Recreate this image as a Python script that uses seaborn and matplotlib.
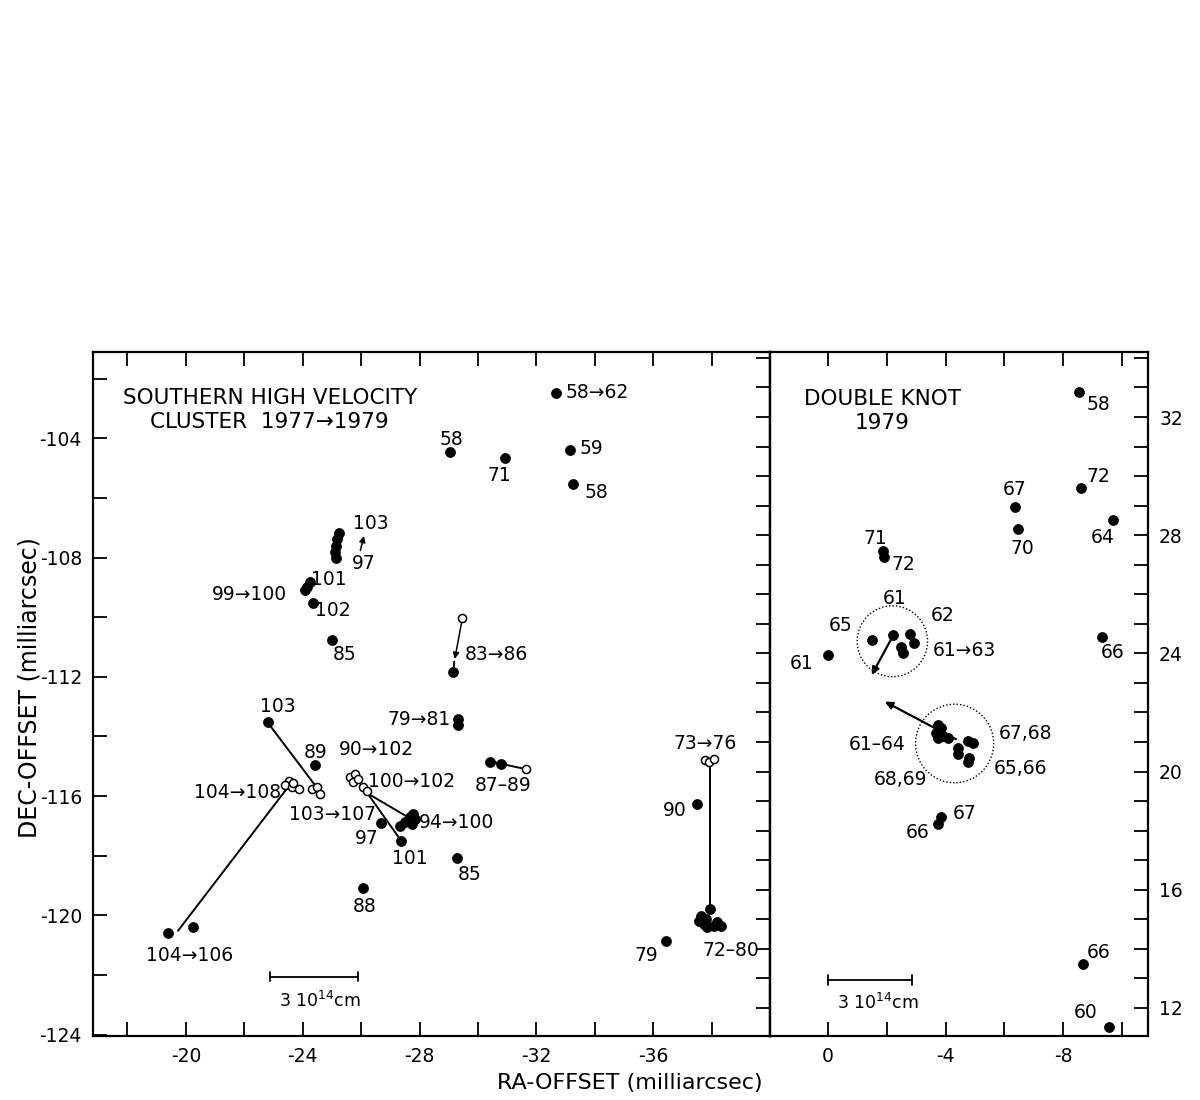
import numpy as np
import pandas as pd
import matplotlib.pyplot as plt
import seaborn as sns
from matplotlib.patches import Circle
from matplotlib.ticker import MultipleLocator

# ---- left panel: southern high velocity cluster 1977 -> 1979 ----
# filled dots (RA, DEC offsets in mas)
left_fill_x = [-29.06, -30.94, -32.68, -33.16, -33.26,
               -25.23, -25.16, -25.13, -25.09, -25.13,
               -24.24, -24.14, -24.07, -24.34, -24.99, -29.16,
               -22.80, -24.41, -29.33, -29.33, -19.38, -20.24,
               -26.67, -27.38,
               -27.32, -27.49, -27.66, -27.76, -27.83, -27.73,
               -29.30, -26.05, -30.43, -30.80, -37.50, -36.44,
               -37.95, -37.64, -37.57, -37.74, -37.85, -38.09, -38.32, -38.19, -37.81]
left_fill_y = [-104.47, -104.67, -102.46, -104.40, -105.54,
               -107.18, -107.38, -107.61, -107.81, -108.01,
               -108.82, -108.98, -109.08, -109.52, -110.76, -111.83,
               -113.53, -114.97, -113.43, -113.60, -120.59, -120.39,
               -116.91, -117.51,
               -117.01, -116.88, -116.71, -116.61, -116.78, -116.94,
               -118.08, -119.08, -114.84, -114.94, -116.27, -120.86,
               -119.79, -120.02, -120.19, -120.29, -120.39, -120.35, -120.35, -120.22, -120.12]

# open circles
left_open_x = [-29.47,
               -24.31, -24.48, -24.58,
               -23.52, -23.38, -23.62, -23.66, -23.86,
               -25.61, -25.78, -25.71, -25.88, -26.05, -26.19,
               -31.66,
               -37.78, -37.91, -38.09]
left_open_y = [-110.02,
               -115.77, -115.71, -115.94,
               -115.50, -115.64, -115.71, -115.57, -115.77,
               -115.37, -115.27, -115.54, -115.44, -115.71, -115.84,
               -115.10,
               -114.80, -114.87, -114.74]

# connecting lines (x0, x1), (y0, y1)
left_seg_x = [(-22.80, -24.48), (-19.73, -23.52), (-25.98, -27.73),
              (-26.19, -27.38), (-30.43, -31.66), (-37.95, -37.95), (-29.19, -29.16)]
left_seg_y = [(-113.53, -115.71), (-120.52, -115.67), (-115.77, -116.78),
              (-115.87, -117.51), (-114.84, -115.10), (-114.87, -119.79), (-111.49, -111.83)]

# small arrows (start -> end)
left_arr_x = [(-25.95, -26.12), (-29.47, -29.19)]
left_arr_y = [(-107.85, -107.18), (-110.02, -111.49)]

left_labels = ["58", "71", "58\u219262", "59", "58", "103", "97", "101", "99\u2192100",
               "102", "85", "83\u219286", "103", "89", "79\u219281", "90\u2192102",
               "104\u2192108", "100\u2192102", "103\u2192107", "94\u2192100", "97", "101",
               "85", "88", "104\u2192106", "87\u201389", "73\u219276", "90", "79", "72\u201380"]
left_lab_x = [-29.09, -30.74, -34.09, -33.88, -34.05, -26.32, -26.09, -24.89, -22.19,
              -25.03, -25.44, -30.63, -23.15, -24.44, -28.0, -26.53,
              -21.78, -27.73, -25.03, -29.26, -26.19, -27.66,
              -29.71, -26.12, -20.14, -30.87, -37.78, -36.75, -35.76, -38.67]
left_lab_y = [-104.03, -105.24, -102.46, -104.33, -105.81, -106.84, -108.18, -108.72, -109.25,
              -109.79, -111.26, -111.26, -113.00, -114.54, -113.43, -114.43,
              -115.87, -115.50, -116.61, -116.88, -117.44, -118.11,
              -118.62, -119.69, -121.36, -115.64, -114.23, -116.47, -121.36, -121.19]

# ---- right panel: double knot 1979 ----
right_fill_x = [-8.55, -8.62, -6.36, -6.46, -9.71, -1.88, -1.91, -9.33, 0.0,
                -1.50, -2.22, -2.80, -2.91, -2.50, -2.56,
                -3.73, -3.83, -3.66, -3.76, -3.93, -4.10,
                -4.41, -4.41, -4.75, -4.92, -4.79, -4.75,
                -3.86, -3.73, -8.68, -9.57]
right_fill_y = [32.85, 29.59, 28.95, 28.20, 28.51, 27.46, 27.25, 24.54, 23.93,
                24.44, 24.61, 24.64, 24.34, 24.20, 24.00,
                21.56, 21.46, 21.29, 21.12, 21.22, 21.15,
                20.81, 20.61, 21.05, 20.95, 20.47, 20.31,
                18.47, 18.24, 13.49, 11.36]

right_arr_x = [(-2.22, -1.44), (-4.44, -1.85)]
right_arr_y = [(24.61, 23.19), (21.05, 22.41)]

circ_x = [-2.19, -4.31]
circ_y = [24.41, 20.95]
circ_r = [1.2, 1.33]

right_labels = ["58", "72", "67", "70", "64", "71", "72", "66", "61", "65", "61", "62",
                "61\u219263", "61\u201364", "67,68", "68,69", "65,66", "67", "66", "66", "60"]
right_lab_x = [-9.20, -9.20, -6.36, -6.63, -9.37, -1.61, -2.56, -9.71, 0.89, -0.41, -2.26,
               -3.90, -4.65, -1.68, -6.74, -2.46, -6.56, -4.65, -3.04, -9.23, -8.79]
right_lab_y = [32.44, 30.00, 29.56, 27.56, 27.93, 27.90, 27.02, 24.03, 23.66, 24.95, 25.86,
               25.29, 24.10, 20.92, 21.29, 19.73, 20.10, 18.58, 17.93, 13.86, 11.83]

sns.set_style("ticks")
plt.rcParams['font.family'] = ['DejaVu Sans']
plt.rcParams['axes.unicode_minus'] = False
plt.rcParams['text.color'] = 'black'
plt.rcParams['xtick.color'] = 'black'
plt.rcParams['ytick.color'] = 'black'
plt.rcParams['xtick.labelcolor'] = 'black'
plt.rcParams['ytick.labelcolor'] = 'black'

fig = plt.figure(figsize=(12, 11), dpi=100)
ax1 = fig.add_axes([93 / 1200, 1 - 1036 / 1100, 677 / 1200, 684 / 1100])
ax2 = fig.add_axes([770 / 1200, 1 - 1036 / 1100, 378 / 1200, 684 / 1100])

fs = 13.5
lw = 1.4

# left panel
for xs, ys in zip(left_seg_x, left_seg_y):
    ax1.plot(xs, ys, color="black", lw=lw, zorder=2)
for xs, ys in zip(left_arr_x, left_arr_y):
    ax1.annotate("", xy=(xs[1], ys[1]), xytext=(xs[0], ys[0]),
                 arrowprops=dict(arrowstyle="-|>", color="black", lw=1.1, mutation_scale=9))
sns.scatterplot(x=left_fill_x, y=left_fill_y, ax=ax1, color="black", s=52,
                edgecolor="black", linewidth=0.5, zorder=3)
sns.scatterplot(x=left_open_x, y=left_open_y, ax=ax1, facecolor="white", s=34,
                edgecolor="black", linewidth=1.1, zorder=4)
for t, x, y in zip(left_labels, left_lab_x, left_lab_y):
    ax1.text(x, y, t, fontsize=fs, ha="center", va="center", color="black")

ax1.text(-22.87, -103.05, "SOUTHERN HIGH VELOCITY\nCLUSTER  1977\u21921979",
         fontsize=15.5, ha="center", va="center", linespacing=1.25, color="black")
ax1.plot([-22.87, -25.88], [-122.06, -122.06], color="black", lw=1.3)
ax1.plot([-22.87, -22.87], [-121.9, -122.22], color="black", lw=1.3)
ax1.plot([-25.88, -25.88], [-121.9, -122.22], color="black", lw=1.3)
ax1.text(-24.58, -122.86, "3 10$^{14}$cm", fontsize=12.5, ha="center", va="center",
         color="black")

ax1.set_xlim(-16.82, -40)
ax1.set_ylim(-124.05, -101.1)
ax1.set_xticks([-20, -24, -28, -32, -36])
ax1.set_xticks([-18, -22, -26, -30, -34, -38], minor=True)
ax1.set_yticks([-104, -108, -112, -116, -120, -124])
ax1.set_yticks([-102, -106, -110, -114, -118, -122], minor=True)
ax1.tick_params(which="both", direction="in", length=10, width=1.3,
                top=True, right=False, labelsize=13.5, pad=8)

# right panel
for cx, cy, r in zip(circ_x, circ_y, circ_r):
    ax2.add_patch(Circle((cx, cy), r, fill=False, ls=(0, (1, 1.5)), lw=1.0, color="black"))
for xs, ys in zip(right_arr_x, right_arr_y):
    ax2.annotate("", xy=(xs[1], ys[1]), xytext=(xs[0], ys[0]),
                 arrowprops=dict(arrowstyle="-|>", color="black", lw=1.6, mutation_scale=11))
sns.scatterplot(x=right_fill_x, y=right_fill_y, ax=ax2, color="black", s=52,
                edgecolor="black", linewidth=0.5, zorder=3)
for t, x, y in zip(right_labels, right_lab_x, right_lab_y):
    ax2.text(x, y, t, fontsize=fs, ha="center", va="center", color="black")

ax2.text(-1.85, 32.2, "DOUBLE KNOT\n1979", fontsize=15.5, ha="center", va="center",
         linespacing=1.25, color="black")
ax2.plot([0, -2.87], [12.95, 12.95], color="black", lw=1.3)
ax2.plot([0, 0], [12.79, 13.11], color="black", lw=1.3)
ax2.plot([-2.87, -2.87], [12.79, 13.11], color="black", lw=1.3)
ax2.text(-1.71, 12.17, "3 10$^{14}$cm", fontsize=12.5, ha="center", va="center",
         color="black")

ax2.set_xlim(1.98, -10.9)
ax2.set_ylim(11.05, 34.2)
ax2.set_xticks([0, -4, -8])
ax2.set_xticks([-2, -6, -10], minor=True)
ax2.set_yticks([12, 16, 20, 24, 28, 32])
ax2.yaxis.set_minor_locator(MultipleLocator(1))
ax2.yaxis.tick_right()
ax2.tick_params(which="both", direction="in", length=10, width=1.3,
                top=True, left=False, right=True, labelleft=False, labelright=True,
                labelsize=13.5, pad=8)
sec = ax2.secondary_yaxis("left")
sec.set_yticks(np.arange(12, 35, 1))
sec.tick_params(which="both", direction="out", length=10, width=1.3, labelleft=False)

for a in (ax1, ax2):
    for sp in a.spines.values():
        sp.set_visible(True)
        sp.set_linewidth(1.6)
        sp.set_color("black")
sec.spines["left"].set_linewidth(1.6)

fig.text(30 / 1200, 1 - 688 / 1100, "DEC-OFFSET (milliarcsec)", rotation=90,
         ha="center", va="center", fontsize=17, color="black")
fig.text(630 / 1200, 1 - 1073 / 1100, "RA-OFFSET (milliarcsec)",
         ha="center", va="top", fontsize=16, color="black")

fig.savefig("out.png", dpi=100, facecolor="white")
